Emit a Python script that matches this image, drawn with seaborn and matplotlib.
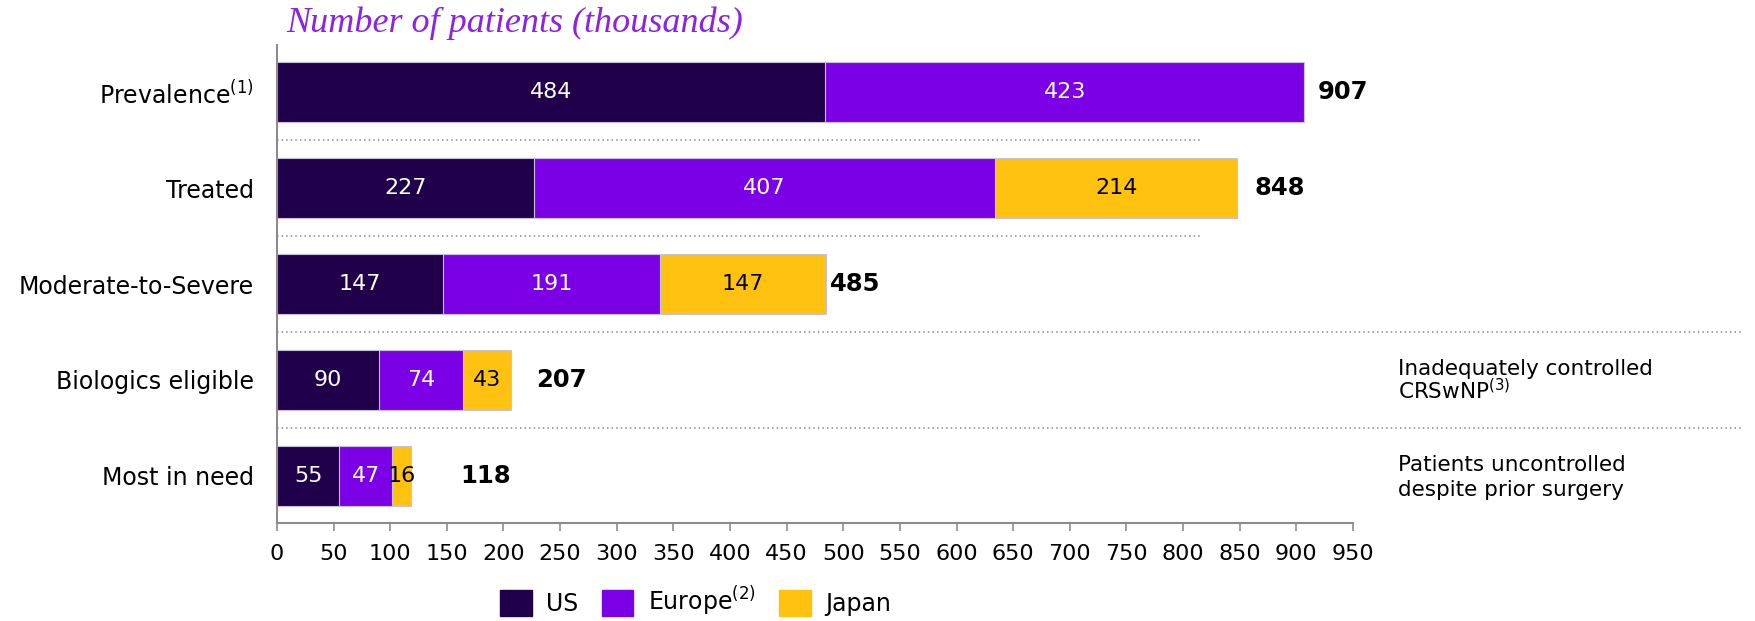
import matplotlib
matplotlib.use("Agg")
import matplotlib.pyplot as plt
import matplotlib.patches as mpatches
import seaborn as sns
import pandas as pd

# Data (thousands of patients)
categories = ["Prevalence$^{(1)}$", "Treated", "Moderate-to-Severe", "Biologics eligible", "Most in need"]
us = [484, 227, 147, 90, 55]
europe = [423, 407, 191, 74, 47]
japan = [0, 214, 147, 43, 16]
xticks = list(range(0, 951, 50))
notes = {3: ["Inadequately controlled", "CRSwNP$^{(3)}$"], 4: ["Patients uncontrolled", "despite prior surgery"]}

c_us, c_eu, c_jp = "#20004a", "#7b00e6", "#ffc211"

df = pd.DataFrame({"Category": categories, "US": us, "Europe": europe, "Japan": japan})
df["cum_eu"] = df["US"] + df["Europe"]
df["Total"] = df["cum_eu"] + df["Japan"]

sns.set_style("white")
plt.rcParams["font.family"] = ["DejaVu Sans"]
plt.rcParams["mathtext.default"] = "regular"
plt.rcParams["text.color"] = "black"

fig = plt.figure(figsize=(17.56, 6.21), dpi=100)
ax = fig.add_axes([0.1577, 0.1578, 0.6128, 0.7697])

# stacked bars drawn as overlapping cumulative totals
edge = dict(edgecolor="#c9c2d6", linewidth=0.8)
sns.barplot(data=df, x="Total", y="Category", orient="h", color=c_jp, saturation=1, width=0.62, ax=ax, **edge)
sns.barplot(data=df, x="cum_eu", y="Category", orient="h", color=c_eu, saturation=1, width=0.62, ax=ax, **edge)
sns.barplot(data=df, x="US", y="Category", orient="h", color=c_us, saturation=1, width=0.62, ax=ax, **edge)

# segment labels
for i, row in df.iterrows():
    ax.text(row["US"] / 2, i, f"{row['US']}", ha="center", va="center", color="white", fontsize=16)
    ax.text(row["US"] + row["Europe"] / 2, i, f"{row['Europe']}", ha="center", va="center", color="white", fontsize=16)
    if row["Japan"] > 0:
        ax.text(row["cum_eu"] + row["Japan"] / 2, i, f"{row['Japan']}", ha="center", va="center", color="black", fontsize=16)

# totals (hand-placed gaps like the original slide)
total_gap = [12, 15, 3, 22, 44]
for i, row in df.iterrows():
    ax.text(row["Total"] + total_gap[i], i, f"{row['Total']}", ha="left", va="center",
            fontsize=17.5, fontweight="bold", color="black")

# dotted separators
for i in range(len(categories) - 1):
    xmax = 815 if i < 2 else 1294
    ax.plot([0, xmax], [i + 0.5, i + 0.5], color="#8a8a8a", lw=1.1, ls=(0, (1, 2)), clip_on=False)

# notes on the right, one text per line
for i, lines in notes.items():
    for k, line in enumerate(lines):
        ax.text(990, i - 0.05 + 0.255 * k, line, ha="left", va="baseline", fontsize=15.5, clip_on=False)

ax.set_xlim(0, 950)
ax.set_ylim(4.49, -0.49)
ax.set_xticks(xticks)
ax.set_xlabel("")
ax.set_ylabel("")
for s in ["top", "right"]:
    ax.spines[s].set_visible(False)
for s in ["left", "bottom"]:
    ax.spines[s].set_color("#8c8c8c")
    ax.spines[s].set_linewidth(1.5)
ax.tick_params(axis="x", bottom=True, length=6, width=1.2, color="#8c8c8c", labelcolor="black", labelsize=16, pad=9)
ax.tick_params(axis="y", left=False, labelcolor="black", labelsize=17, pad=13)

fig.text(0.163, 0.963, "Number of patients (thousands)", ha="left", va="center",
         fontsize=26, style="italic", family="Liberation Serif", color="#8b22e6")

handles = [mpatches.Patch(color=c_us), mpatches.Patch(color=c_eu), mpatches.Patch(color=c_jp)]
fig.legend(handles, ["US", "Europe$^{(2)}$", "Japan"], loc="lower center", bbox_to_anchor=(0.396, -0.03),
           ncol=3, frameon=False, fontsize=17, handlelength=1.35, handleheight=1.35,
           columnspacing=1.0, handletextpad=0.6)

fig.savefig("out.png", dpi=100)
